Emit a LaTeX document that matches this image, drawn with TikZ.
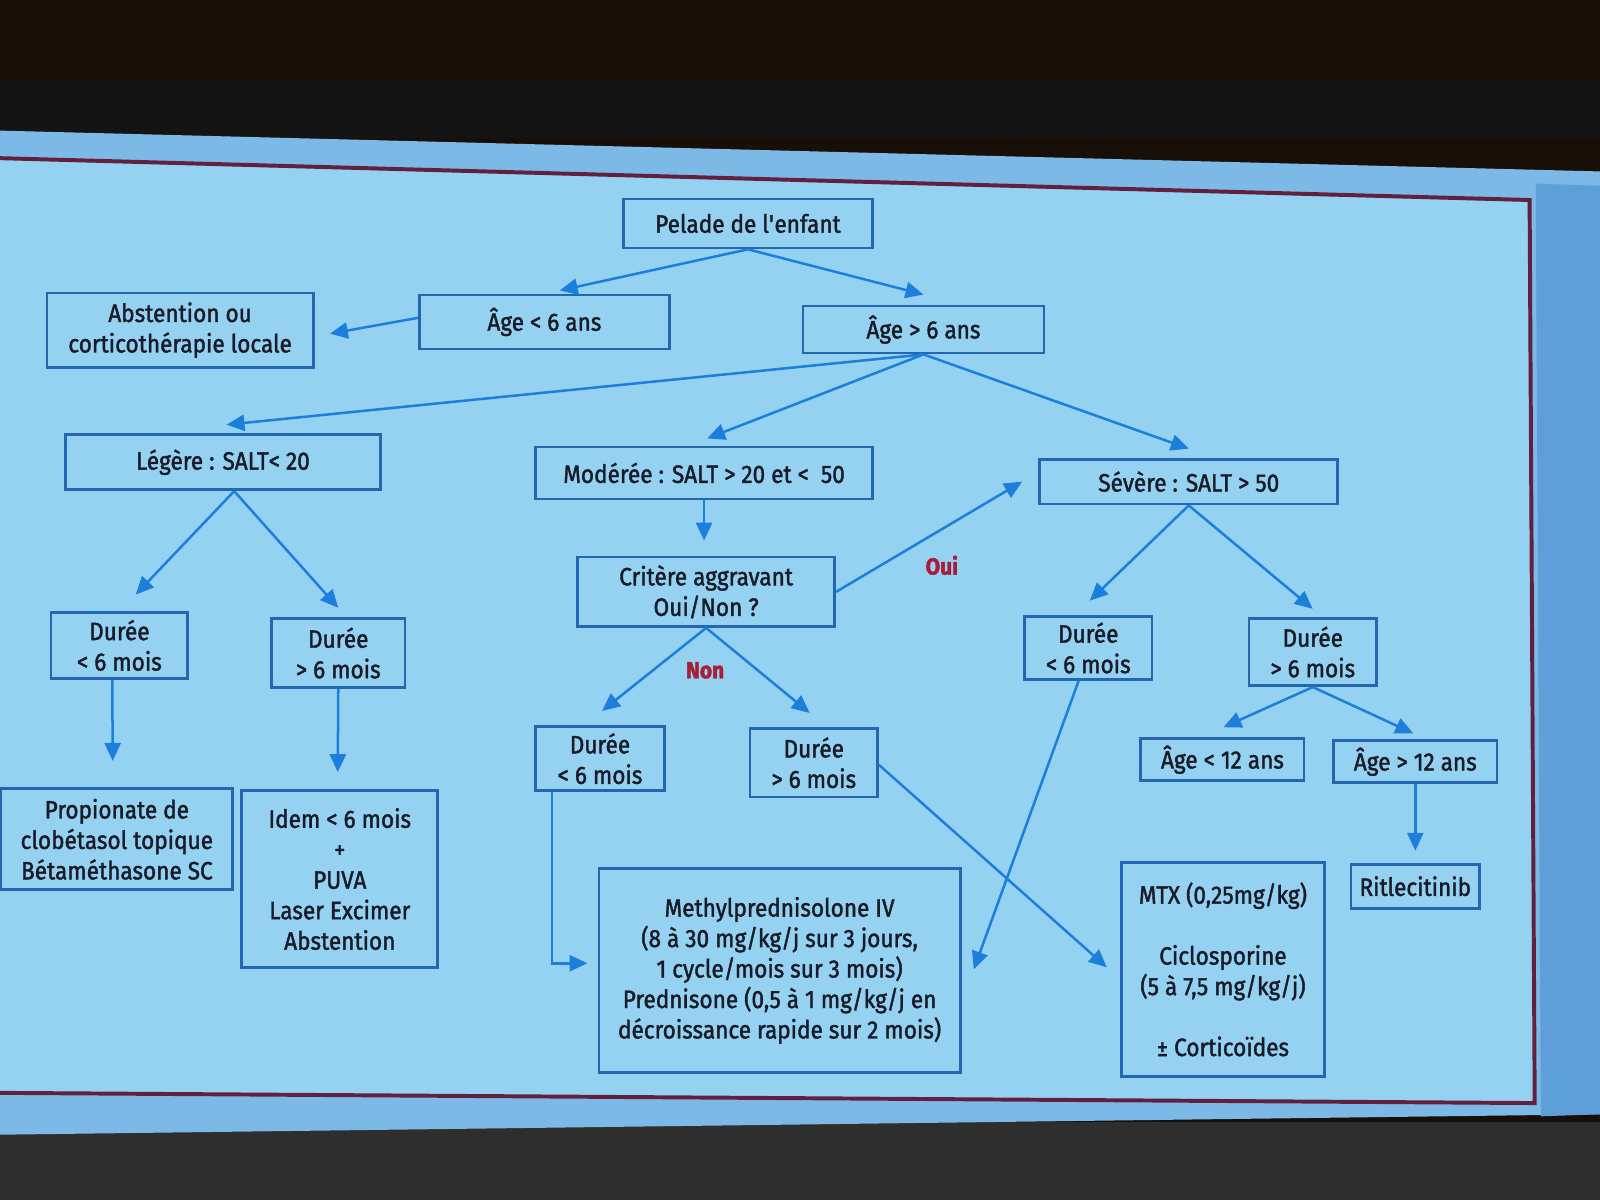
\documentclass[tikz,border=0pt]{standalone}
\usepackage{fontspec}
\setmainfont{Fira Sans}[FakeStretch=0.9,FakeBold=1.6]
\usetikzlibrary{arrows.meta,calc}
\definecolor{slidebg}{HTML}{95D2F2}
\definecolor{slidetop}{HTML}{7DB9E6}
\definecolor{slideedge}{HTML}{5E9FDA}
\definecolor{boxblue}{HTML}{2466B0}
\definecolor{arrblue}{HTML}{1C7FDC}
\definecolor{txt}{HTML}{181C28}
\definecolor{lblred}{HTML}{A81E38}
\definecolor{frame}{HTML}{62203E}
\tikzset{
  bx/.style 2 args={draw=boxblue, line width=1.5pt, inner sep=0pt,
    minimum width=#1*0.02cm, minimum height=#2*0.02cm,
    text=txt, align=center, font=\fontsize{14}{17}\selectfont},
  arr/.style={draw=arrblue, line width=1.4pt, -{Triangle[length=10pt,width=9pt]}},
  lbl/.style={text=lblred, font=\fontsize{13}{15}\selectfont\bfseries}
}
\begin{document}
\begin{tikzpicture}[x=0.02cm,y=-0.02cm]
\useasboundingbox (0,0) rectangle (1568,1176);
% surroundings
\fill[black!88!brown] (0,0) rectangle (1568,1176);
\fill[black!92] (0,78) rectangle (1568,135);
\fill[black!82] (0,1100) rectangle (1568,1176);
% slide
\fill[slidetop] (0,128) -- (1568,168) -- (1568,1092) -- (0,1112) -- cycle;
\fill[slideedge] (1505,180) -- (1568,182) -- (1568,1092) -- (1510,1094) -- cycle;
\fill[slidebg] (0,157) -- (1497,198) -- (1503,1080) -- (0,1070) -- cycle;
\draw[frame, line width=2.2pt] (0,155) -- (1499,196) -- (1504,1081) -- (0,1071);
% nodes
\node[bx={244}{48}] (pel) at (733,219) {Pelade de l\textquotesingle enfant};
\node[bx={245}{53}] (ageA) at (533.5,315.5) {Âge < 6 ans};
\node[bx={261}{73}] (abst) at (176.5,323.5) {Abstention ou\\corticothérapie locale};
\node[bx={236}{46}] (ageB) at (905,323) {Âge > 6 ans};
\node[bx={309}{54}] (leg) at (218.5,453) {Légère : SALT< 20};
\node[bx={330}{51}] (mod) at (690,463.5) {Modérée : SALT > 20 et <~ 50};
\node[bx={292}{44}] (sev) at (1165,472) {Sévère : SALT > 50};
\node[bx={252}{68}] (crit) at (692,580) {Critère aggravant\\Oui/Non ?};
\node[bx={134}{65}] (d1) at (117,632.5) {Durée\\< 6 mois};
\node[bx={131}{68}] (d2) at (331.5,640) {Durée\\> 6 mois};
\node[bx={126}{63}] (d3) at (588,743.5) {Durée\\< 6 mois};
\node[bx={125}{67}] (d4) at (797.5,747.5) {Durée\\> 6 mois};
\node[bx={125}{62}] (d5) at (1066.5,635) {Durée\\< 6 mois};
\node[bx={125}{66}] (d6) at (1286.5,639) {Durée\\> 6 mois};
\node[bx={160}{41}] (a12) at (1198,744.5) {Âge < 12 ans};
\node[bx={160}{41}] (b12) at (1387,746.5) {Âge > 12 ans};
\node[bx={227}{99}] (prop) at (114.5,822.5) {Propionate de\\clobétasol topique\\Bétaméthasone SC};
\node[bx={192}{173}] (idem) at (333,861.5) {Idem < 6 mois\\+\\PUVA\\Laser Excimer\\Abstention};
\node[bx={354}{200}] (meth) at (764,951) {Methylprednisolone IV\\(8 à 30 mg/kg/j sur 3 jours,\\1 cycle/mois sur 3 mois)\\Prednisone (0,5 à 1 mg/kg/j en\\décroissance rapide sur 2 mois)};
\node[bx={199}{210}] (mtx) at (1198.5,950) {MTX (0,25mg/kg)\\[17pt]Ciclosporine\\(5 à 7,5 mg/kg/j)\\[17pt]± Corticoïdes};
\node[bx={126}{43}] (rit) at (1387,868.5) {Ritlecitinib};
% labels
\node[lbl] (oui) at (923,554) {Oui};
\node[lbl] (non) at (691,657) {Non};
% connectors
\draw[arr] (pel.south) -- ($(ageA.north)+(15,-3)$);
\draw[arr] (pel.south) -- ($(ageB.north)+(0,-10)$);
\draw[arr] ($(ageA.west)+(0,-4)$) -- ($(abst.east)+(15,3.5)$);
\draw[arr] (ageB.south) -- ($(leg.north)+(3.5,-8.5)$);
\draw[arr] (ageB.south) -- ($(mod.north)+(3,-7)$);
\draw[arr] (ageB.south) -- ($(sev.north)+(0,-9)$);
\draw[arr] (mod.south) -- ($(crit.north)+(-2,-15)$);
\draw[arr] (crit.east) -- ($(sev.west)+(-16,0)$);
\draw[arr] (crit.south) -- ($(d3.north)+(2,-14)$);
\draw[arr] (crit.south) -- ($(d4.north)+(-4,-14)$);
\draw[arr] ($(leg.south)+(11,0)$) -- ($(d1.north)+(16,-16)$);
\draw[arr] ($(leg.south)+(11,0)$) -- ($(d2.north)+(0,-9)$);
\draw[arr] ($(d1.south)+(-7,0)$) -- ($(prop.north)+(-4,-26)$);
\draw[arr] (d2.south) -- ($(idem.north)+(-2,-17)$);
\draw[arr] (sev.south) -- ($(d5.north)+(1.5,-14)$);
\draw[arr] (sev.south) -- ($(d6.north)+(0,-8)$);
\draw[arr] (d6.south) -- ($(a12.north)+(1,-10)$);
\draw[arr] (d6.south) -- ($(b12.north)+(-2,-6)$);
\draw[arr] (b12.south) -- ($(rit.north)+(0,-12)$);
\draw[arr] ($(d3.south)+(-47,0)$) |- ($(meth.west)+(-10,-7)$);
\draw[arr] ($(d4.east)+(0,2)$) -- ($(mtx.west)+(-13,-2)$);
\draw[arr] ($(d5.south)+(-9.5,0)$) -- ($(meth.east)+(12,-1)$);
\end{tikzpicture}
\end{document}
